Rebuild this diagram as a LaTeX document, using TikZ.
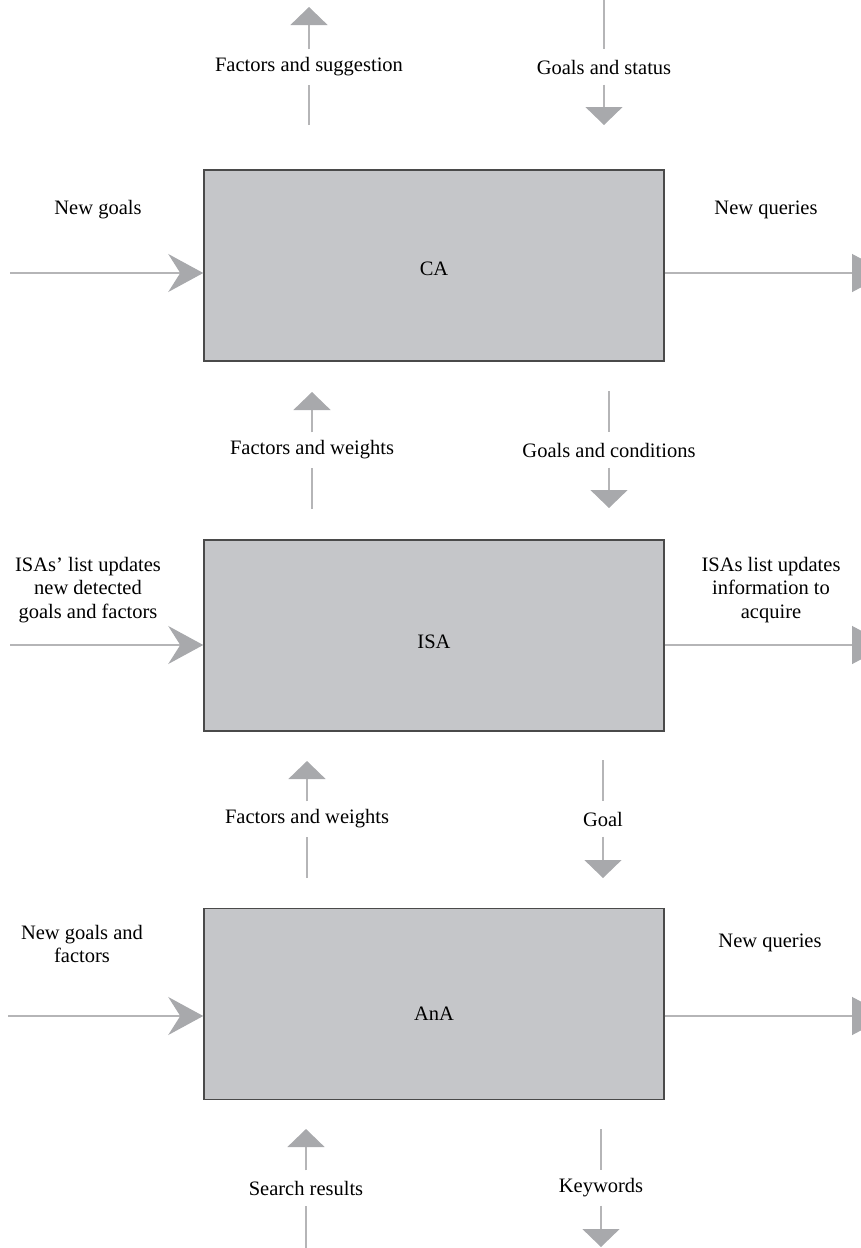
\documentclass[tikz,border=0pt]{standalone}
\usepackage{fontspec}
\setmainfont{Liberation Serif}
\usetikzlibrary{arrows.meta}
\definecolor{boxfill}{HTML}{C5C6C9}
\definecolor{boxline}{HTML}{4A4A4A}
\definecolor{linegray}{HTML}{B5B5B7}
\definecolor{headgray}{HTML}{A8A9AC}
\tikzset{
  agent/.style={draw=boxline, line width=1.5pt, fill=boxfill, minimum width=460pt, minimum height=191pt, inner sep=0pt},
  agenttext/.style={font=\fontsize{20.5}{23.5}\selectfont},
  vline/.style={draw=linegray, line width=1.3pt},
  uparr/.style={vline, -{Triangle[length=18pt,width=37pt,color=headgray,fill=headgray]}},
  harr/.style={vline, -{Stealth[length=35pt,width=38pt,inset=12pt,color=headgray,fill=headgray]}},
  rarr/.style={vline, -{Triangle[length=36pt,width=38pt,color=headgray,fill=headgray]}},
  lab/.style={inner sep=0pt, minimum height=35pt, font=\fontsize{20.5}{23.5}\selectfont, align=center},
  sidelab/.style={inner sep=0pt, font=\fontsize{20.5}{23.5}\selectfont, align=center}
}
\begin{document}
\begin{tikzpicture}[x=1pt,y=-1pt]
\useasboundingbox (0,0) rectangle (860,1248);

% agent boxes
\node[agent] (ca)  at (434,265.5) {};
\node[agent] (isa) at (434,635.5) {};
\node[agent] (ana) at (434,1004) {};
\node[agenttext] (catext)  at (434,269) {CA};
\node[agenttext] (isatext) at (434,642) {ISA};
\node[agenttext] (anatext) at (434,1014) {AnA};

% ---------- top of CA ----------
\node[lab] (l1) at (309,67) {Factors and suggestion};
\coordinate (l1s) at (309,125);
\coordinate (l1e) at (309,7);
\draw[vline] (l1s) -- (l1.south);
\draw[uparr] (l1.north) -- (l1e);

\node[lab] (l2) at (604,67) {Goals and status};
\coordinate (l2s) at (604,0);
\coordinate (l2e) at (604,125);
\draw[vline] (l2s) -- (l2.north);
\draw[uparr] (l2.south) -- (l2e);

% ---------- CA / ISA ----------
\node[lab] (l3) at (312,450) {Factors and weights};
\coordinate (l3s) at (312,509);
\coordinate (l3e) at (312,392);
\draw[vline] (l3s) -- (l3.south);
\draw[uparr] (l3.north) -- (l3e);

\node[lab] (l4) at (609,450) {Goals and conditions};
\coordinate (l4s) at (609,391);
\coordinate (l4e) at (609,508);
\draw[vline] (l4s) -- (l4.north);
\draw[uparr] (l4.south) -- (l4e);

% ---------- ISA / AnA ----------
\node[lab] (l5) at (307,819) {Factors and weights};
\coordinate (l5s) at (307,878);
\coordinate (l5e) at (307,761);
\draw[vline] (l5s) -- (l5.south);
\draw[uparr] (l5.north) -- (l5e);

\node[lab] (l6) at (603,819) {Goal};
\coordinate (l6s) at (603,760);
\coordinate (l6e) at (603,878);
\draw[vline] (l6s) -- (l6.north);
\draw[uparr] (l6.south) -- (l6e);

% ---------- below AnA ----------
\node[lab] (l7) at (306,1188) {Search results};
\coordinate (l7s) at (306,1248);
\coordinate (l7e) at (306,1129);
\draw[vline] (l7s) -- (l7.south);
\draw[uparr] (l7.north) -- (l7e);

\node[lab] (l8) at (601,1188) {Keywords};
\coordinate (l8s) at (601,1129);
\coordinate (l8e) at (601,1247);
\draw[vline] (l8s) -- (l8.north);
\draw[uparr] (l8.south) -- (l8e);

% ---------- side arrows ----------
\coordinate (caL)  at (10,273);
\coordinate (isaL) at (10,645);
\coordinate (anaL) at (8,1016);
\draw[harr] (caL)  -- (ca.west |- caL);
\draw[harr] (isaL) -- (isa.west |- isaL);
\draw[harr] (anaL) -- (ana.west |- anaL);

\coordinate (caR)  at (888,273);
\coordinate (isaR) at (888,645);
\coordinate (anaR) at (888,1016);
\draw[rarr] (ca.east |- caR)   -- (caR);
\draw[rarr] (isa.east |- isaR) -- (isaR);
\draw[rarr] (ana.east |- anaR) -- (anaR);

% ---------- side labels ----------
\node[sidelab] (t1) at (98,210) {New goals};
\node[sidelab] (t2) at (766,210) {New queries};
\node[sidelab] (t3) at (88,590) {ISAs' list updates\\new detected\\goals and factors};
\node[sidelab] (t4) at (771,590) {ISAs list updates\\information to\\acquire};
\node[sidelab] (t5) at (82,944) {New goals and\\factors};
\node[sidelab] (t6) at (770,943) {New queries};
\end{tikzpicture}
\end{document}
